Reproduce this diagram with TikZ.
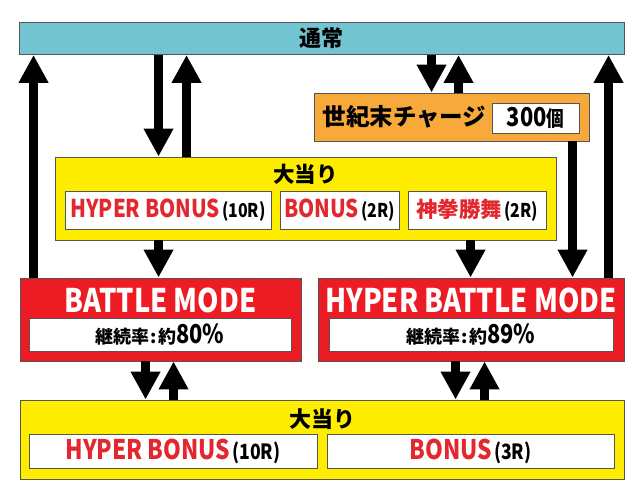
\documentclass[tikz,border=0pt]{standalone}
\usepackage{fontspec}
\setmainfont{Noto Sans CJK JP}
\newfontfamily\cond{Noto Sans CJK JP}[FakeStretch=0.84]
\usetikzlibrary{arrows.meta,positioning}

\definecolor{barteal}{HTML}{72C4D0}
\definecolor{chgorange}{HTML}{F7A93B}
\definecolor{hityellow}{HTML}{FFED00}
\definecolor{modered}{HTML}{ED1C24}
\definecolor{txtred}{HTML}{E2282E}
\definecolor{edgegray}{HTML}{555555}

\newcommand{\fs}[1]{\fontsize{#1}{#1}\selectfont}

\begin{document}
\begin{tikzpicture}[
  x=1pt,y=-1pt,
  box/.style={draw=edgegray,line width=0.9pt,inner sep=0pt},
  inbox/.style={box,fill=white,minimum width=#1},
  arr/.style={line width=9pt,-{Triangle[width=28pt,length=28pt]}},
  lbl/.style={inner sep=0pt,font=\bfseries}
]
\useasboundingbox (0,0) rectangle (640,500);

% boxes
\node[box,fill=barteal,minimum width=604.5pt,minimum height=32.5pt] (tsujo) at (321.75,38.25) {};
\node[box,fill=chgorange,minimum width=275pt,minimum height=48pt] (charge) at (451.5,117) {};
\node[box,fill=hityellow,minimum width=501pt,minimum height=83pt] (hita) at (305.5,198.5) {};
\node[box,fill=modered,minimum width=281pt,minimum height=83pt] (battle) at (160.5,319.5) {};
\node[box,fill=modered,minimum width=306pt,minimum height=83pt] (hyper) at (471,319.5) {};
\node[box,fill=hityellow,minimum width=604pt,minimum height=79pt] (hitb) at (322,439.5) {};

% labels
\node[lbl] (tsujolbl) at (tsujo) {\fs{22}通常};
\node[lbl] (chargelbl) at (404.5,117) {\fs{23.5}世紀末チャージ};
\node[inbox=87pt,minimum height=30pt] (stock) at (535.5,118) {\bfseries\cond\fs{26}300\fs{21}個};

\node[lbl] (hitatitle) at (305.5,174) {\fs{21.5}大当り};
\node[inbox=206pt,minimum height=38pt] (hyperbonusa) at (168,210)
  {\bfseries\cond{\color{txtred}\fs{24.5}HYPER BONUS}\hspace{2pt}\fs{19}(10R)};
\node[inbox=119pt,minimum height=38pt] (bonusa) at (339.5,210)
  {\bfseries\cond{\color{txtred}\fs{24.5}BONUS}\hspace{2pt}\fs{19}(2R)};
\node[inbox=138pt,minimum height=38pt] (kenbu) at (477,210)
  {\bfseries{\color{txtred}\fs{21.5}神拳勝舞}\hspace{2pt}\cond\fs{19}(2R)};

\node[lbl,white] (battlelbl) at (160.5,300) {\cond\fs{32.5}BATTLE MODE};
\node[inbox=262pt,minimum height=33pt] (battlerate) at (160,334.5)
  {\bfseries\fs{18}継続率\hspace{1pt}:\hspace{1pt}約\cond\fs{26}80\%};
\node[lbl,white] (hyperlbl) at (471,300) {\cond\fs{32.5}HYPER BATTLE MODE};
\node[inbox=284pt,minimum height=33pt] (hyperrate) at (471,334.5)
  {\bfseries\fs{18}継続率\hspace{1pt}:\hspace{1pt}約\cond\fs{26}89\%};

\node[lbl] (hitbtitle) at (322,419) {\fs{22}大当り};
\node[inbox=288pt,minimum height=34pt] (hyperbonusb) at (173,451)
  {\bfseries\cond{\color{txtred}\fs{27}HYPER BONUS}\hspace{2pt}\fs{21}(10R)};
\node[inbox=287pt,minimum height=34pt] (bonusb) at (470.5,451)
  {\bfseries\cond{\color{txtred}\fs{27}BONUS}\hspace{2pt}\fs{21}(3R)};

% arrows
\draw[arr] ([xshift=14pt]battle.north west) -- ([xshift=14pt]battle.north west |- tsujo.south);
\draw[arr] ([xshift=104pt]hita.north west |- tsujo.south) -- ([xshift=104pt]hita.north west);
\draw[arr] ([xshift=132pt]hita.north west) -- ([xshift=132pt]hita.north west |- tsujo.south);
\draw[arr] ([xshift=118pt]charge.north west |- tsujo.south) -- ([xshift=118pt]charge.north west);
\draw[arr] ([xshift=145pt]charge.north west) -- ([xshift=145pt]charge.north west |- tsujo.south);
\draw[arr] ([xshift=139pt]battle.north west |- hita.south) -- ([xshift=139pt]battle.north west);
\draw[arr] ([xshift=153pt]hyper.north west |- hita.south) -- ([xshift=153pt]hyper.north west);
\draw[arr] ([xshift=255pt]hyper.north west |- charge.south) -- ([xshift=255pt]hyper.north west);
\draw[arr] ([xshift=291pt]hyper.north west) -- ([xshift=291pt]hyper.north west |- tsujo.south);
\draw[arr] ([xshift=126pt]battle.south west) -- ([xshift=126pt]battle.south west |- hitb.north);
\draw[arr] ([xshift=154pt]battle.south west |- hitb.north) -- ([xshift=154pt]battle.south west);
\draw[arr] ([xshift=138pt]hyper.south west) -- ([xshift=138pt]hyper.south west |- hitb.north);
\draw[arr] ([xshift=167pt]hyper.south west |- hitb.north) -- ([xshift=167pt]hyper.south west);

\end{tikzpicture}
\end{document}
